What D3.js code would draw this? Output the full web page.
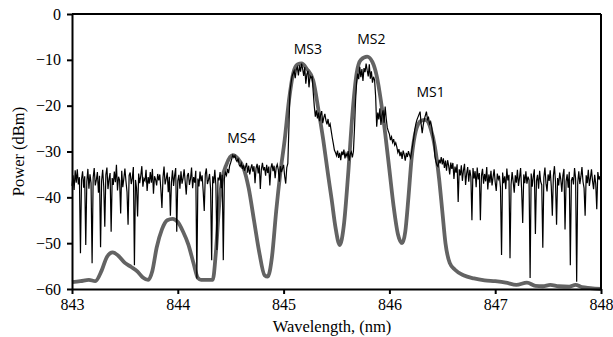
<!DOCTYPE html>
<html>
<head>
<meta charset="utf-8">
<script src="https://cdn.jsdelivr.net/npm/d3@7"></script>
<style>
  body { margin: 0; background: #fff; }
</style>
</head>
<body>
<div id="chart"></div>
<script>
// measured spectrum (black), 843.00 .. 848.00 nm every 0.01 nm
var traceStart = 843, traceStep = 0.01;
var traceDbm = [
  -37.5,-35.2,-38.4,-34.1,-36.8,-33.9,-37.2,-35.6,-52.2,-36.1,
  -34.3,-37.9,-35.4,-50.4,-36.6,-33.8,-38.1,-35.0,-36.9,-54.4,
  -35.7,-33.6,-37.4,-36.2,-34.5,-39.0,-35.3,-50.9,-36.4,-34.0,
  -37.6,-46.4,-35.1,-33.5,-38.2,-36.0,-34.7,-47.5,-35.8,-37.3,
  -34.4,-36.7,-32.9,-38.5,-35.5,-36.3,-43.5,-34.2,-37.8,-35.9,
  -33.7,-36.5,-38.8,-46.0,-35.2,-34.6,-37.1,-35.8,-33.4,-54.8,
  -36.2,-38.0,-44.2,-34.8,-36.9,-35.3,-33.2,-37.7,-35.9,-36.4,
  -34.0,-38.6,-35.6,-37.0,-34.5,-36.8,-33.8,-39.2,-35.4,-36.1,
  -37.4,-34.9,-36.3,-35.0,-38.3,-42.3,-35.7,-33.3,-37.2,-36.0,
  -34.6,-38.9,-35.5,-44.0,-36.7,-34.1,-37.5,-35.2,-33.6,-47.5,
  -36.4,-35.1,-38.1,-34.3,-37.0,-35.8,-33.9,-36.6,-39.4,-35.3,
  -34.7,-37.3,-36.0,-33.5,-38.0,-35.6,-36.8,-34.2,-57.7,-35.9,
  -37.6,-34.4,-36.5,-35.2,-38.7,-43.0,-35.0,-33.7,-37.1,-36.2,
  -34.9,-38.2,-53.7,-35.4,-36.9,-34.0,-37.4,-51.5,-35.7,-36.3,
  -34.5,-38.0,-35.1,-53.7,-36.0,-34.6,-35.2,-33.8,-34.7,-33.1,
  -32.4,-31.6,-30.8,-31.3,-30.9,-31.8,-32.2,-31.5,-32.9,-33.3,
  -32.6,-33.8,-33.0,-34.2,-33.4,-32.5,-34.6,-33.1,-35.0,-33.7,
  -32.8,-34.4,-33.2,-36.9,-33.6,-32.7,-34.8,-33.0,-38.2,-33.9,
  -32.5,-34.1,-33.4,-35.3,-32.9,-34.7,-33.3,-37.4,-33.6,-32.6,
  -34.3,-33.1,-35.8,-33.5,-32.8,-34.0,-36.6,-33.2,-34.5,-33.7,
  -32.9,-35.4,-37.0,-33.5,-32.6,-25.0,-17.0,-15.2,-13.6,-13.0,
  -12.4,-14.0,-12.1,-11.6,-13.4,-11.2,-12.6,-10.8,-12.0,-13.5,
  -11.6,-15.2,-13.1,-12.4,-16.0,-13.5,-13.9,-13.7,-17.0,-20.1,
  -22.4,-21.0,-22.8,-21.5,-23.4,-22.0,-21.2,-23.8,-22.6,-21.8,
  -23.2,-24.1,-22.9,-24.6,-24.0,-25.5,-27.0,-28.3,-29.7,-30.2,
  -30.9,-29.8,-31.4,-30.3,-31.9,-30.0,-30.8,-29.6,-31.5,-30.4,
  -31.1,-29.9,-32.0,-30.6,-30.1,-31.3,-30.0,-25.0,-19.0,-15.0,
  -13.0,-14.2,-11.5,-13.8,-12.0,-14.6,-11.8,-12.7,-10.8,-12.3,
  -13.6,-11.0,-14.1,-12.5,-15.0,-13.7,-14.4,-18.0,-24.6,-21.5,
  -23.0,-20.6,-24.2,-22.1,-21.0,-23.7,-20.2,-22.8,-24.8,-25.6,
  -26.2,-27.5,-26.8,-28.0,-27.3,-28.6,-28.1,-29.0,-30.2,-29.5,
  -31.0,-30.1,-31.6,-29.8,-30.7,-32.0,-30.3,-31.2,-29.9,-30.8,
  -31.4,-30.0,-28.5,-27.0,-25.2,-24.0,-23.1,-22.5,-21.9,-21.3,
  -24.0,-26.0,-24.2,-23.0,-22.1,-21.3,-23.0,-22.6,-24.0,-23.5,
  -24.6,-26.5,-28.0,-31.0,-32.2,-33.0,-33.3,-31.8,-32.6,-31.2,
  -32.8,-31.5,-33.6,-32.0,-34.2,-31.9,-33.1,-35.0,-32.4,-33.8,
  -32.5,-36.0,-33.3,-34.6,-32.8,-41.0,-33.9,-35.2,-33.0,-36.4,
  -34.1,-32.7,-37.3,-34.8,-33.4,-36.6,-34.0,-35.5,-45.0,-33.6,
  -35.9,-34.3,-37.8,-33.5,-36.1,-34.7,-45.0,-35.3,-33.8,-37.0,
  -34.9,-36.5,-33.4,-38.3,-35.0,-36.8,-34.2,-37.4,-35.6,-33.9,
  -36.7,-38.6,-34.8,-36.0,-35.3,-37.9,-52.6,-34.6,-36.9,-35.4,
  -38.2,-33.7,-36.3,-35.1,-53.3,-37.2,-34.5,-36.6,-39.0,-35.2,
  -36.8,-34.0,-37.5,-35.7,-33.6,-38.4,-45.6,-35.0,-36.9,-34.3,
  -37.0,-35.5,-36.2,-57.6,-34.8,-37.7,-35.4,-33.9,-48.0,-36.4,
  -35.1,-38.1,-34.2,-36.6,-37.3,-51.0,-35.6,-33.5,-36.9,-38.7,
  -35.0,-36.4,-34.1,-37.6,-44.0,-35.3,-33.2,-36.7,-46.0,-35.8,
  -37.4,-34.6,-36.1,-38.8,-35.2,-33.8,-47.0,-36.5,-35.0,-37.9,
  -34.4,-54.8,-36.3,-35.6,-37.2,-33.6,-35.9,-58.4,-36.8,-34.3,
  -37.1,-35.5,-33.4,-36.6,-38.0,-44.0,-35.2,-36.9,-34.0,-37.5,
  -35.8,-33.9,-36.4,-38.2,-35.1,-37.0,-42.6,-34.5,-36.1,-35.4,
  -37.2
];

// simulated filter response (grey)
var simWl = [843.00,843.08,843.16,843.22,843.28,843.33,843.385,843.44,843.50,843.56,
  843.62,843.67,843.72,843.76,843.80,843.85,843.90,843.95,844.00,844.05,
  844.10,844.15,844.19,844.22,844.33,844.36,844.39,844.42,844.46,844.52,
  844.57,844.62,844.67,844.72,844.77,844.82,844.85,844.89,844.93,844.97,
  845.01,845.05,845.09,845.13,845.17,845.22,845.28,845.33,845.375,845.42,
  845.455,845.49,845.53,845.57,845.61,845.65,845.69,845.73,845.79,845.84,
  845.88,845.92,845.96,846.00,846.04,846.08,846.12,846.15,846.18,846.21,
  846.25,846.30,846.34,846.39,846.43,846.47,846.50,846.53,846.57,846.62,
  846.70,846.80,846.90,847.00,847.10,847.20,847.30,847.38,847.45,847.52,
  847.60,847.70,847.76,847.82,847.90,848.00];
var simDbm = [-58.5,-58.3,-58.0,-58.3,-56.0,-53.0,-52.0,-52.8,-54.3,-55.2,
  -56.2,-57.5,-58.0,-56.0,-51.0,-47.0,-45.0,-44.7,-45.4,-47.5,
  -50.3,-54.5,-57.6,-58.0,-58.0,-52.0,-42.0,-36.0,-32.8,-30.8,
  -31.6,-33.5,-38.0,-45.0,-52.0,-57.0,-57.3,-53.0,-43.0,-34.5,
  -27.5,-19.0,-13.0,-11.0,-10.8,-12.0,-14.5,-21.0,-27.5,-35.0,
  -40.6,-46.5,-50.4,-46.0,-35.0,-22.0,-13.0,-10.0,-9.3,-10.5,
  -13.5,-19.0,-26.0,-34.0,-42.0,-48.0,-50.0,-47.5,-40.0,-31.5,
  -25.5,-23.3,-23.1,-25.0,-29.0,-36.0,-43.0,-50.0,-54.3,-55.8,
  -57.0,-57.7,-58.1,-58.3,-58.6,-59.1,-58.6,-59.3,-59.4,-59.1,
  -59.4,-59.5,-59.1,-59.6,-59.8,-60.0];

var xTicks = [843, 844, 845, 846, 847, 848];
var yTicks = [0, -10, -20, -30, -40, -50, -60];

var peakNames = ["MS4", "MS3", "MS2", "MS1"];
var peakWl = [844.60, 845.23, 845.83, 846.39];
var peakLabelDbm = [-28.1, -8.7, -6.5, -18.0];

var W = 613, H = 337;
var svg = d3.select("#chart").append("svg").attr("width", W).attr("height", H);

var x = d3.scaleLinear().domain([843, 848]).range([72, 601]);
var y = d3.scaleLinear().domain([-60, 0]).range([289, 14]);

var serif = "'Liberation Serif', serif";

// grey simulation
var sim = simWl.map(function (w, i) { return [w, simDbm[i]]; });
svg.append("path").datum(sim)
  .attr("fill", "none").attr("stroke", "#636363").attr("stroke-width", 3.8)
  .attr("stroke-linejoin", "round")
  .attr("d", d3.line().x(function (d) { return x(d[0]); }).y(function (d) { return y(d[1]); })
    .curve(d3.curveMonotoneX));

// black measurement
svg.append("path").datum(traceDbm)
  .attr("fill", "none").attr("stroke", "#000").attr("stroke-width", 1.2)
  .attr("d", d3.line()
    .x(function (d, i) { return x(traceStart + i * traceStep); })
    .y(function (d) { return y(d); }));

// frame
svg.append("line").attr("x1", x(843)).attr("x2", x(848)).attr("y1", y(0)).attr("y2", y(0))
  .attr("stroke", "#000").attr("stroke-width", 2);
svg.append("line").attr("x1", x(848)).attr("x2", x(848)).attr("y1", y(0)).attr("y2", y(-60))
  .attr("stroke", "#000").attr("stroke-width", 2);

var xAxis = svg.append("g").attr("transform", "translate(0," + y(-60) + ")")
  .call(d3.axisBottom(x).tickValues(xTicks).tickFormat(d3.format("d")).tickSize(5).tickSizeOuter(0).tickPadding(5));
var yAxis = svg.append("g").attr("transform", "translate(" + x(843) + ",0)")
  .call(d3.axisLeft(y).tickValues(yTicks).tickSize(5).tickSizeOuter(0).tickPadding(6));

[xAxis, yAxis].forEach(function (g) {
  g.select(".domain").attr("stroke", "#000").attr("stroke-width", 2);
  g.selectAll(".tick line").attr("stroke", "#000").attr("stroke-width", 2);
  g.selectAll(".tick text").style("font-family", serif).style("font-size", "16px").attr("fill", "#000");
});

svg.append("text").attr("x", 332).attr("y", 332)
  .attr("text-anchor", "middle").style("font-family", serif).style("font-size", "16.5px")
  .text("Wavelength, (nm)");
svg.append("text").attr("transform", "translate(24," + y(-30) + ") rotate(-90)")
  .attr("text-anchor", "middle").style("font-family", serif).style("font-size", "16.5px")
  .text("Power (dBm)");

svg.selectAll(".peak").data(peakNames).enter().append("text")
  .attr("class", "peak")
  .attr("x", function (d, i) { return x(peakWl[i]); })
  .attr("y", function (d, i) { return y(peakLabelDbm[i]); })
  .attr("text-anchor", "middle").style("font-family", "'Open Sans', sans-serif").style("font-size", "14px")
  .text(function (d) { return d; });
</script>
</body>
</html>
